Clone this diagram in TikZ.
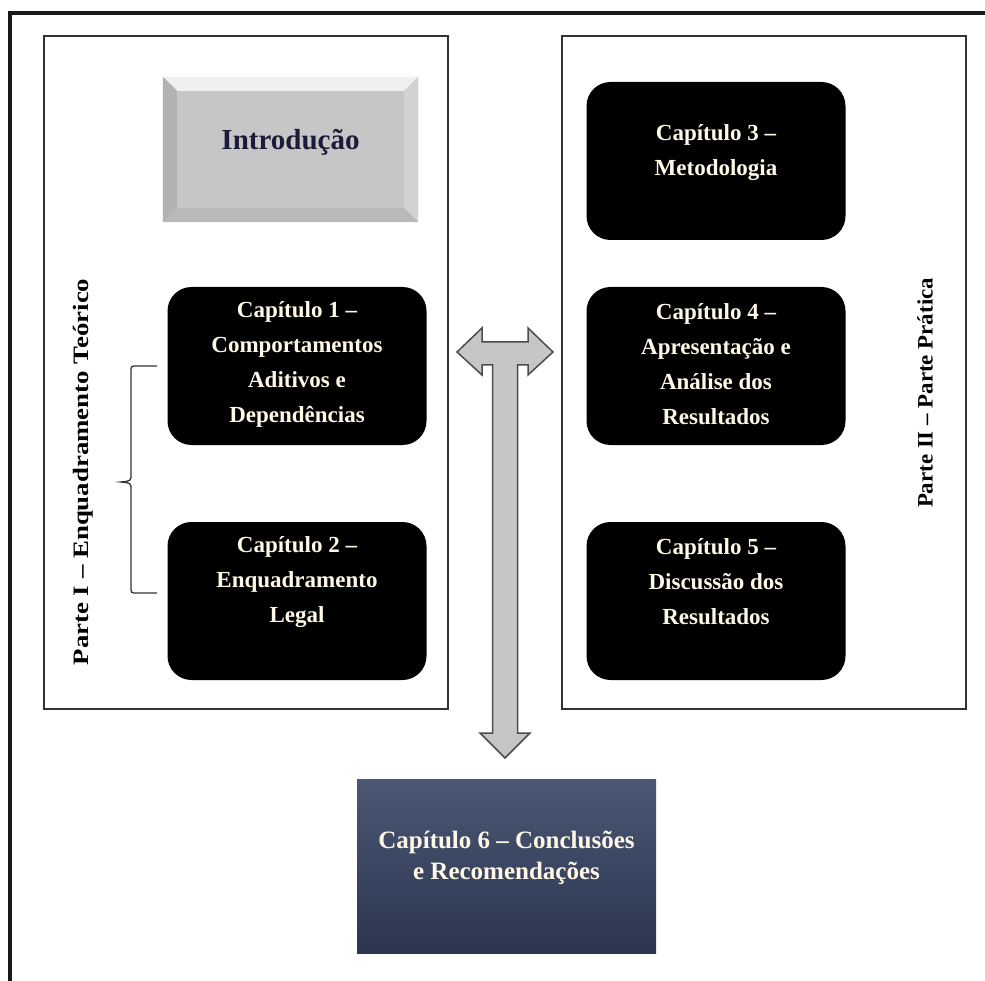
\documentclass[tikz,border=0pt]{standalone}
\usepackage{fontspec}
\setmainfont{Liberation Serif}
\usetikzlibrary{calc}
\definecolor{capcream}{HTML}{FFF8E7}
\definecolor{intronavy}{HTML}{1C1C3A}
\definecolor{slatetop}{HTML}{4B5773}
\definecolor{slatebot}{HTML}{2B3550}
\definecolor{arrowgray}{HTML}{C6C6C6}
\definecolor{framegray}{HTML}{333333}

\begin{document}
\begin{tikzpicture}[x=1pt,y=-1pt,
		partframe/.style={draw=framegray, line width=2, minimum width=404, minimum height=673},
		capbox/.style={fill=black, rounded corners=24, minimum width=259, minimum height=158},
		captext/.style={text=capcream, font=\bfseries\fontsize{23}{35}\selectfont, align=center},
		parttext/.style={rotate=90, font=\bfseries\fontsize{22}{26}\selectfont}]
		\useasboundingbox (0,0) rectangle (985,981);
		\draw[line width=4, color=black!90] (10,981) -- (10,13) -- (985,13);

		\node[partframe] (parte1) at (246,372.5) {};
		\node[partframe] (parte2) at (764,372.5) {};

		\node[fill=gray!45, minimum width=255, minimum height=145] (intro) at (290.5,149.5) {};
		\fill[gray!12] (intro.north west) -- (intro.north east) -- ($(intro.north east)+(-14,14)$) -- ($(intro.north west)+(14,14)$) -- cycle;
		\fill[gray!60] (intro.north west) -- ($(intro.north west)+(14,14)$) -- ($(intro.south west)+(14,-14)$) -- (intro.south west) -- cycle;
		\fill[gray!35] (intro.north east) -- ($(intro.north east)+(-14,14)$) -- ($(intro.south east)+(-14,-14)$) -- (intro.south east) -- cycle;
		\fill[gray!55] (intro.south west) -- ($(intro.south west)+(14,-14)$) -- ($(intro.south east)+(-14,-14)$) -- (intro.south east) -- cycle;
		\node[text=intronavy, font=\bfseries\fontsize{29}{34}\selectfont] (introtxt) at ([yshift=7]intro.center) {Introdução};

		\node[capbox] (cap1) at (297,366) {};
		\node[capbox] (cap2) at (297,601) {};
		\node[capbox] (cap3) at (716,161) {};
		\node[capbox] (cap4) at (716,366) {};
		\node[capbox] (cap5) at (716,601) {};
		\node[captext] (cap1txt) at ([yshift=2]cap1.center) {Capítulo 1 –\\Comportamentos\\Aditivos e\\Dependências};
		\node[captext] (cap2txt) at ([yshift=19]cap2.center) {Capítulo 2 –\\Enquadramento\\Legal};
		\node[captext] (cap3txt) at ([yshift=8]cap3.center) {Capítulo 3 –\\Metodologia};
		\node[captext] (cap4txt) at ([yshift=2]cap4.center) {Capítulo 4 –\\Apresentação e\\Análise dos\\Resultados};
		\node[captext] (cap5txt) at ([yshift=19]cap5.center) {Capítulo 5 –\\Discussão dos\\Resultados};

		\node[top color=slatetop, bottom color=slatebot, minimum width=299, minimum height=174] (cap6) at (506.5,866) {};
		\node[text=capcream, font=\bfseries\fontsize{25}{31}\selectfont, align=center] (cap6txt) at ([yshift=8]cap6.center) {Capítulo 6 – Conclusões\\e Recomendações};

		\node[parttext] (parte1txt) at (83,472) {\scalebox{1.22}[1]{Parte I – Enquadramento Teórico}};
		\node[parttext] (parte2txt) at (925,393) {\scalebox{1.04}[1]{Parte II – Parte Prática}};

		\draw[line width=1.3, color=framegray] (157,366) -- (137,366) .. controls (131,366) .. (131,372) -- (131,474) .. controls (131,481) .. (121,482) .. controls (131,483) .. (131,490) -- (131,587) .. controls (131,593) .. (137,593) -- (157,593);

		\coordinate (hub) at (505,352);
		\begin{scope}[shift={(hub)}]
			\filldraw[fill=arrowgray, draw=black!70, line width=1.5, line join=miter]
				(-48,0) -- (-23,-24) -- (-23,-10) -- (23,-10) -- (23,-24) -- (48,0) -- (23,23) -- (23,13) -- (12.5,13)
				-- (12.5,381) -- (25,381) -- (0,406) -- (-25,381) -- (-12.5,381) -- (-12.5,13) -- (-23,13) -- (-23,23) -- cycle;
		\end{scope}
\end{tikzpicture}
\end{document}
